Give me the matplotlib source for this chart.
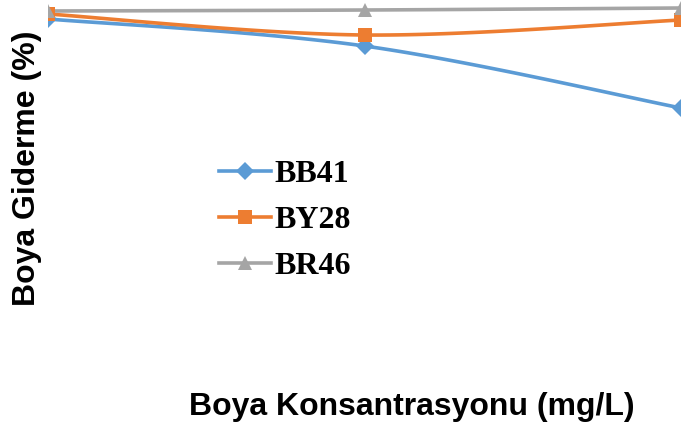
import numpy as np
import matplotlib
matplotlib.use("Agg")
import matplotlib.pyplot as plt
from matplotlib.lines import Line2D

# Dye concentration levels (category positions) and removal percentages
concentrations = ["50", "100", "150"]
bb41 = [98.4, 95.7, 89.5]
by28 = [98.9, 96.8, 98.3]
br46 = [99.2, 99.3, 99.5]

series_names = ["BB41", "BY28", "BR46"]
colors = ["#5B9BD5", "#ED7D31", "#A5A5A5"]
markers = ["D", "s", "^"]


def smooth_path(x, y, steps=40):
    """Catmull-Rom style smoothing used for drawing the connecting line."""
    x = np.asarray(x, float)
    y = np.asarray(y, float)
    px = np.concatenate([[x[0]], x, [x[-1]]])
    py = np.concatenate([[y[0]], y, [y[-1]]])
    xs, ys = [], []
    for i in range(1, len(px) - 2):
        p0, p1, p2, p3 = (np.array([px[j], py[j]]) for j in (i - 1, i, i + 1, i + 2))
        c1 = p1 + (p2 - p0) / 6.0
        c2 = p2 - (p3 - p1) / 6.0
        t = np.linspace(0, 1, steps)[:, None]
        pts = ((1 - t) ** 3) * p1 + 3 * ((1 - t) ** 2) * t * c1 + 3 * (1 - t) * t ** 2 * c2 + t ** 3 * p2
        xs.extend(pts[:, 0])
        ys.extend(pts[:, 1])
    return np.array(xs), np.array(ys)


fig = plt.figure(figsize=(6.81, 4.29), dpi=100)
ax = fig.add_axes([48 / 681, 0.0, 633 / 681, 1.0])

x = np.arange(len(concentrations))
handles = []
for vals, name, c, m in zip([bb41, by28, br46], series_names, colors, markers):
    sx, sy = smooth_path(x, vals)
    ax.plot(sx, sy, color=c, lw=2.6, solid_capstyle="round", zorder=2)
    ms = 9 if m == "D" else 10.5
    ax.plot(x, vals, linestyle="none", marker=m, color=c, markersize=ms,
            markeredgewidth=0, zorder=3)
    handles.append(Line2D([0], [0], color=c, lw=2.6, marker=m,
                          markersize=ms, markeredgewidth=0, label=name))

ax.set_xlim(0, 2)
ax.set_ylim(100.3 - 42.9, 100.3)
ax.axis("off")

fig.legend(handles=handles, loc="upper left", bbox_to_anchor=(193 / 681, 1 - 134 / 429),
           frameon=False, handlelength=1.65, handletextpad=0.1, labelspacing=0.52,
           borderpad=0.3, prop={"family": "Liberation Serif", "weight": "bold", "size": 23})

fig.text(27 / 681, 1 - 168 / 429, "Boya Giderme (%)", rotation=90, ha="center", va="center",
         family="Liberation Sans", weight="bold", size=23)
fig.text(412 / 681, 1 - 407 / 429, "Boya Konsantrasyonu (mg/L)", ha="center", va="center",
         family="Liberation Sans", weight="bold", size=23)

fig.savefig("out.png", dpi=100)
